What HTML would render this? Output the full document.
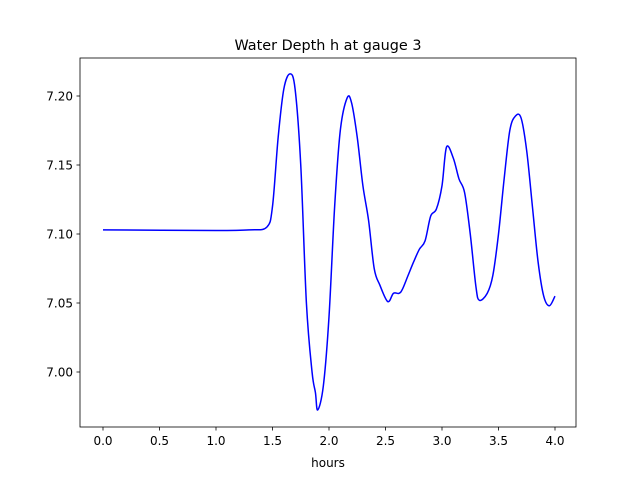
<!DOCTYPE html>
<html><head><meta charset="utf-8"><style>
body{margin:0;background:#fff;font-family:"DejaVu Sans","Liberation Sans",sans-serif}
svg text{font-family:"DejaVu Sans","Liberation Sans",sans-serif}
</style></head><body>
<svg id="chart" width="640" height="480" xmlns="http://www.w3.org/2000/svg">
<rect width="640" height="480" fill="#fff"/>
<text x="328" y="50" text-anchor="middle" font-size="14.4">Water Depth h at gauge 3</text>
<g id="xt"></g>
<g id="yt"></g>
<path id="line" fill="none" stroke="#0000ff" stroke-width="1.5"/>
<rect x="80" y="58" width="496" height="369" fill="none" stroke="#000" stroke-width="0.8"/>
<text x="328" y="467" text-anchor="middle" font-size="12">hours</text>
</svg>
<script>
const hours=[0,1.0,1.3,1.45,1.5,1.55,1.6,1.655,1.7,1.75,1.8,1.85,1.88,1.90,1.95,2.0,2.05,2.1,2.16,2.2,2.25,2.3,2.35,2.4,2.45,2.52,2.57,2.62,2.65,2.7,2.75,2.8,2.85,2.9,2.95,3.0,3.04,3.1,3.15,3.2,3.25,3.3,3.33,3.4,3.45,3.5,3.55,3.6,3.65,3.7,3.75,3.8,3.85,3.9,3.95,4.0];
const depth=[7.103,7.1025,7.103,7.105,7.12,7.17,7.205,7.216,7.205,7.15,7.05,7.0,6.985,6.9725,6.99,7.04,7.12,7.175,7.1985,7.195,7.17,7.135,7.11,7.075,7.063,7.051,7.057,7.057,7.06,7.07,7.08,7.089,7.095,7.113,7.118,7.135,7.163,7.155,7.14,7.13,7.1,7.062,7.052,7.057,7.07,7.1,7.14,7.175,7.1855,7.184,7.16,7.12,7.08,7.055,7.048,7.055];
const xTicks=[0,0.5,1,1.5,2,2.5,3,3.5,4];
const xLabels=["0.0","0.5","1.0","1.5","2.0","2.5","3.0","3.5","4.0"];
const yTicks=[7.00,7.05,7.10,7.15,7.20];
const yLabels=["7.00","7.05","7.10","7.15","7.20"];
const X=v=>103+v*113;
const Y=v=>372-(v-7.0)*1380;
const NS="http://www.w3.org/2000/svg";
const xt=document.getElementById('xt'),yt=document.getElementById('yt');
xTicks.forEach((t,i)=>{
 const l=document.createElementNS(NS,'line');
 
 
 l.setAttribute('x1',X(t));l.setAttribute('x2',X(t));l.setAttribute('y1',427);l.setAttribute('y2',430.5);l.setAttribute('stroke','#000');l.setAttribute('stroke-width','0.8');xt.appendChild(l);
 const tx=document.createElementNS(NS,'text');
 
 
 tx.setAttribute('x',X(t));tx.setAttribute('y',445);tx.setAttribute('text-anchor','middle');tx.setAttribute('font-size','12');tx.textContent=xLabels[i];xt.appendChild(tx);
});
yTicks.forEach((t,i)=>{
 const l=document.createElementNS(NS,'line');
 
 
 l.setAttribute('x1',76.5);l.setAttribute('x2',80);l.setAttribute('y1',Y(t));l.setAttribute('y2',Y(t));l.setAttribute('stroke','#000');l.setAttribute('stroke-width','0.8');yt.appendChild(l);
 const tx=document.createElementNS(NS,'text');
 
 
 tx.setAttribute('x',73);tx.setAttribute('y',Y(t)+4.5);tx.setAttribute('text-anchor','end');tx.setAttribute('font-size','12');tx.textContent=yLabels[i];yt.appendChild(tx);
});
const p=hours.map((h,i)=>[X(h),Y(depth[i])]);
let d='M'+p[0][0]+','+p[0][1];
for(let i=0;i<p.length-1;i++){
 const p0=p[i-1]||p[i],p1=p[i],p2=p[i+1],p3=p[i+2]||p2;
 const c1=[p1[0]+(p2[0]-p0[0])/6,p1[1]+(p2[1]-p0[1])/6];
 const c2=[p2[0]-(p3[0]-p1[0])/6,p2[1]-(p3[1]-p1[1])/6];
 d+=' C'+c1[0]+','+c1[1]+' '+c2[0]+','+c2[1]+' '+p2[0]+','+p2[1];
}
document.getElementById('line').setAttribute('d',d);
</script>
</body></html>
